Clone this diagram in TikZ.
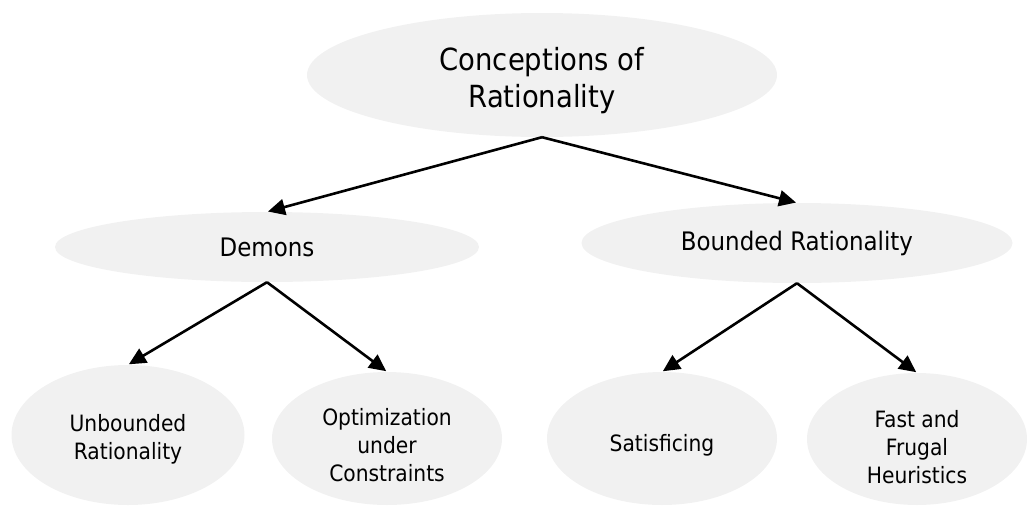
\documentclass[tikz,border=0pt]{standalone}
\usepackage{fontspec}
\setmainfont{DejaVu Sans Condensed}
\usetikzlibrary{shapes.geometric,arrows.meta}
\definecolor{ellfill}{HTML}{F1F1F1}
\tikzset{
  oval/.style={ellipse, fill=ellfill, draw=none, inner sep=0pt, align=center, text=black},
  toptext/.style={font=\fontsize{30.5}{37}\selectfont},
  midtext/.style={font=\fontsize{25.5}{30}\selectfont},
  lowtext/.style={font=\fontsize{22.5}{28}\selectfont},
  txt/.style={align=center, text=black, inner sep=0pt},
  link/.style={line width=2.6pt, -{Triangle[length=17pt,width=16pt]}, shorten >=1pt}
}
\begin{document}
\begin{tikzpicture}[x=1pt,y=-1pt]
\useasboundingbox (0,0) rectangle (1029,507);
\node[oval, minimum width=470pt, minimum height=124pt,
  label={[txt, toptext, yshift=-6pt]center:{Conceptions of\\Rationality}}] (top) at (542,75) {};
\node[oval, midtext, minimum width=424pt, minimum height=70pt] (demons) at (267,247) {Demons};
\node[oval, midtext, minimum width=431pt, minimum height=80pt] (bounded) at (797,243) {Bounded Rationality};
\node[oval, minimum width=233pt, minimum height=140pt,
  label={[txt, lowtext, yshift=-4pt]center:{Unbounded\\Rationality}}] (unb) at (128,435) {};
\node[oval, minimum width=230pt, minimum height=133pt,
  label={[txt, lowtext, yshift=-7pt]center:{Optimization\\under\\Constraints}}] (opt) at (387,438.5) {};
\node[oval, minimum width=230pt, minimum height=133pt,
  label={[txt, lowtext, yshift=-7pt]center:{Satisficing}}] (sat) at (662,438.5) {};
\node[oval, minimum width=220pt, minimum height=132pt,
  label={[txt, lowtext, yshift=-8pt]center:{Fast and\\Frugal\\Heuristics}}] (ffh) at (917,439) {};
\draw[link] (top.south) -- (demons.north);
\draw[link] (top.south) -- (bounded.north);
\draw[link] (demons.south) -- (unb.north);
\draw[link] (demons.south) -- (opt.north);
\draw[link] (bounded.south) -- (sat.north);
\draw[link] (bounded.south) -- (ffh.north);
\end{tikzpicture}
\end{document}
